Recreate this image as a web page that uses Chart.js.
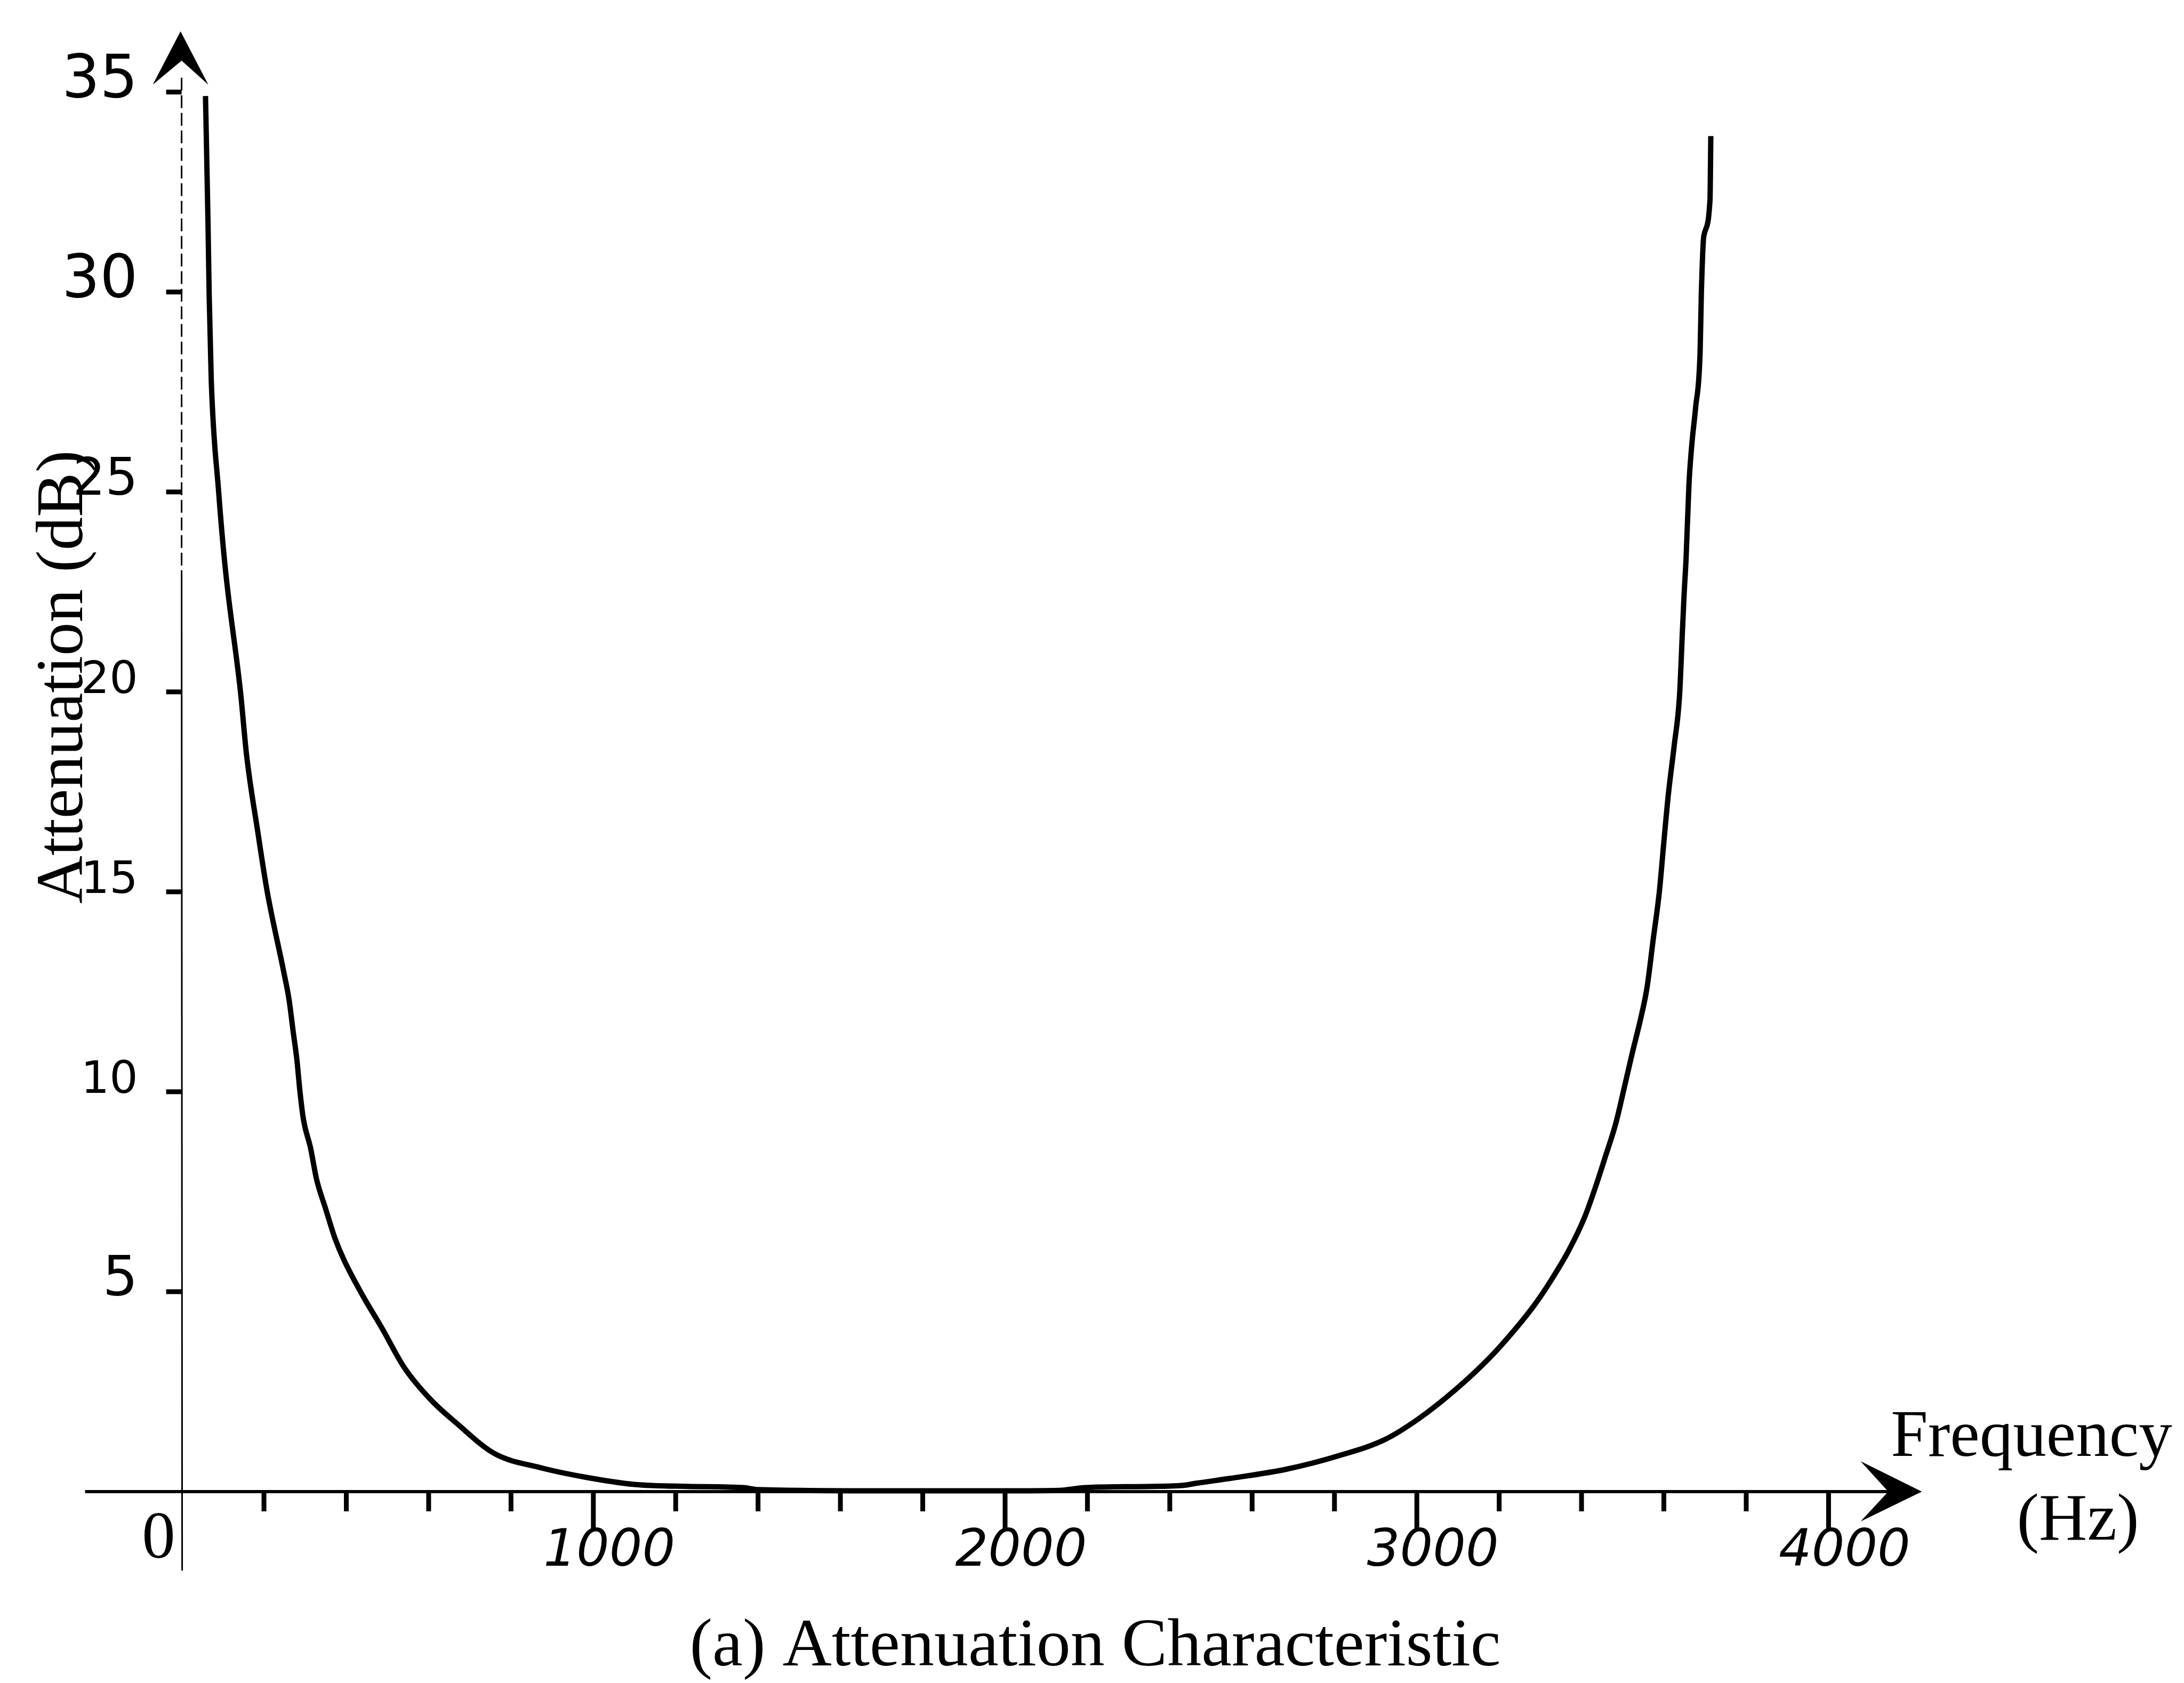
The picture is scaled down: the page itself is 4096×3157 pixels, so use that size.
<!DOCTYPE html>
<html>
<head>
<meta charset="utf-8">
<title>Attenuation Characteristic</title>
<script src="https://cdn.jsdelivr.net/npm/chart.js@4.4.1/dist/chart.umd.min.js"></script>
<style>
  html, body { margin: 0; padding: 0; background: #fff; }
  canvas { display: block; }
</style>
</head>
<body>
<canvas id="chart" width="4096" height="3157"></canvas>
<script>
// attenuation curve (Hz, dB)
const freqHz = [58, 64, 67, 72, 90, 106, 143, 158, 185, 208, 248, 261, 271, 280, 287, 296, 313, 328, 349, 372,
  394, 440, 486, 541, 605, 669, 760, 871, 981, 1099, 1228, 1365, 1400, 1700, 2000, 2131, 2195, 2357, 2436, 2465,
  2546, 2683, 2811, 2922, 3004, 3095, 3178, 3242, 3288, 3324, 3370, 3407, 3435, 3457, 3483, 3506, 3524, 3543,
  3559, 3574, 3589, 3600, 3611, 3625, 3638, 3645, 3649, 3654, 3661, 3668, 3677, 3688, 3691, 3697, 3712, 3714];
const attenDb = [34.9, 31.8, 29.9, 27.8, 25.0, 23.1, 20.0, 18.4, 16.5, 15.0, 13.0, 12.3, 11.5, 10.8, 10.05, 9.3, 8.6, 7.8, 7.1, 6.35,
  5.8, 4.9, 4.1, 3.1, 2.3, 1.7, 0.95, 0.6, 0.36, 0.18, 0.13, 0.1, 0.05, 0.02, 0.02, 0.03, 0.1, 0.13, 0.16, 0.21,
  0.33, 0.56, 0.9, 1.3, 1.82, 2.56, 3.36, 4.1, 4.7, 5.25, 6.05, 6.85, 7.65, 8.35, 9.2, 10.2, 11.0, 11.8,
  12.6, 13.8, 15.0, 16.25, 17.45, 18.65, 19.9, 21.5, 22.4, 23.35, 25.2, 26.2, 27.1, 28.5, 29.95, 31.4, 32.3, 33.9];

const xLabelled = [1000, 2000, 3000, 4000];
const yLabelled = [5, 10, 15, 20, 25, 30, 35];

const ink = '#000';
const serif = '"Liberation Serif", "Times New Roman", serif';

const points = freqHz.map((f, i) => ({ x: f, y: attenDb[i] }));

// the hand-lettered y labels are not all the same size
function yLabelSize(v) {
  if (v >= 30) return 112;
  if (v === 5) return 104;
  if (v === 25) return 96;
  return 84;
}

function arrowHead(ctx, pts) {
  ctx.beginPath();
  ctx.moveTo(pts[0][0], pts[0][1]);
  for (let i = 1; i < pts.length; i++) ctx.lineTo(pts[i][0], pts[i][1]);
  ctx.closePath();
  ctx.fill();
}

// hand-style axes: lines, arrows and tick marks
const axesPlugin = {
  id: 'handAxes',
  beforeDatasetsDraw(chart) {
    const { ctx, scales: { x, y } } = chart;
    const x0 = x.getPixelForValue(0);
    const y0 = y.getPixelForValue(0);
    ctx.save();
    ctx.strokeStyle = ink;
    ctx.fillStyle = ink;
    ctx.lineCap = 'butt';

    // y axis: broken stroke near the top, solid below
    const yTop = y.top - 27;
    const yDashEnd = y.getPixelForValue(23);
    ctx.lineWidth = 3;
    ctx.setLineDash([24, 9]);
    ctx.beginPath();
    ctx.moveTo(x0, yTop);
    ctx.lineTo(x0, yDashEnd);
    ctx.stroke();
    ctx.setLineDash([]);
    ctx.beginPath();
    ctx.moveTo(x0, yDashEnd);
    ctx.lineTo(x0 + 1, y0 + 148);
    ctx.stroke();

    const tipY = y.top - 114;
    arrowHead(ctx, [[x0 - 2, tipY], [x0 + 50, tipY + 100], [x0, tipY + 55], [x0 - 54, tipY + 100]]);

    // x axis
    const tipX = x.right + 175;
    ctx.lineWidth = 6;
    ctx.beginPath();
    ctx.moveTo(x0 - 181, y0);
    ctx.lineTo(tipX - 60, y0);
    ctx.stroke();
    arrowHead(ctx, [[tipX, y0], [tipX - 115, y0 + 56], [tipX - 63, y0], [tipX - 115, y0 - 57]]);

    // tick marks
    ctx.lineWidth = 9;
    x.ticks.forEach(t => {
      if (t.value <= 0) return;
      const px = x.getPixelForValue(t.value);
      const len = xLabelled.includes(t.value) ? 70 : 37;
      ctx.beginPath();
      ctx.moveTo(px, y0);
      ctx.lineTo(px, y0 + len);
      ctx.stroke();
    });
    ctx.lineWidth = 9;
    y.ticks.forEach(t => {
      if (t.value <= 0) return;
      const py = y.getPixelForValue(t.value);
      ctx.beginPath();
      ctx.moveTo(x0 - 29, py);
      ctx.lineTo(x0, py);
      ctx.stroke();
    });
    ctx.restore();
  },
  afterDraw(chart) {
    const { ctx, scales: { x, y } } = chart;
    const x0 = x.getPixelForValue(0);
    const y0 = y.getPixelForValue(0);
    ctx.save();
    ctx.fillStyle = ink;
    ctx.font = '125px ' + serif;
    ctx.textBaseline = 'alphabetic';

    // origin
    ctx.textAlign = 'center';
    ctx.fillText('0', x0 - 43, y0 + 124);

    // axis names
    ctx.fillText('Frequency', 3810, y0 - 67);
    ctx.fillText('(Hz)', 3897, y0 + 90);

    ctx.save();
    ctx.translate(154, 1270);
    ctx.rotate(-Math.PI / 2);
    ctx.fillText('Attenuation (dB)', 0, 0);
    ctx.restore();

    // caption
    ctx.font = '128px ' + serif;
    ctx.fillText('(a) Attenuation Characteristic', 2054, 3124);
    ctx.restore();
  }
};

new Chart(document.getElementById('chart'), {
  type: 'scatter',
  data: {
    datasets: [{
      data: points,
      showLine: true,
      borderColor: ink,
      borderWidth: 10,
      pointRadius: 0,
      cubicInterpolationMode: 'monotone',
      clip: false
    }]
  },
  options: {
    responsive: false,
    devicePixelRatio: 1,
    animation: false,
    layout: { padding: { top: 172.7, right: 666.6, left: 0, bottom: 0 } },
    plugins: { legend: { display: false }, tooltip: { enabled: false } },
    scales: {
      x: {
        type: 'linear',
        min: 0,
        max: 4000,
        grid: { display: false, drawTicks: false },
        border: { display: false },
        afterFit: s => { s.height = 359; },
        ticks: {
          stepSize: 200,
          autoSkip: false,
          maxTicksLimit: 50,
          maxRotation: 0,
          padding: 56,
          labelOffset: 30,
          color: ink,
          font: { family: '"DejaVu Sans", sans-serif', size: 97, style: 'italic' },
          callback: v => xLabelled.includes(v) ? String(v) : ''
        }
      },
      y: {
        type: 'linear',
        min: 0,
        max: 35,
        grid: { display: false, drawTicks: false },
        border: { display: false },
        afterFit: s => { s.width = 340.6; },
        ticks: {
          stepSize: 5,
          padding: 82,
          labelOffset: -20,
          color: ink,
          font: ctx => ({ family: '"DejaVu Sans", sans-serif', size: yLabelSize(ctx.tick ? ctx.tick.value : 0) }),
          callback: v => yLabelled.includes(v) ? String(v) : ''
        }
      }
    }
  },
  plugins: [axesPlugin]
});
</script>
</body>
</html>
